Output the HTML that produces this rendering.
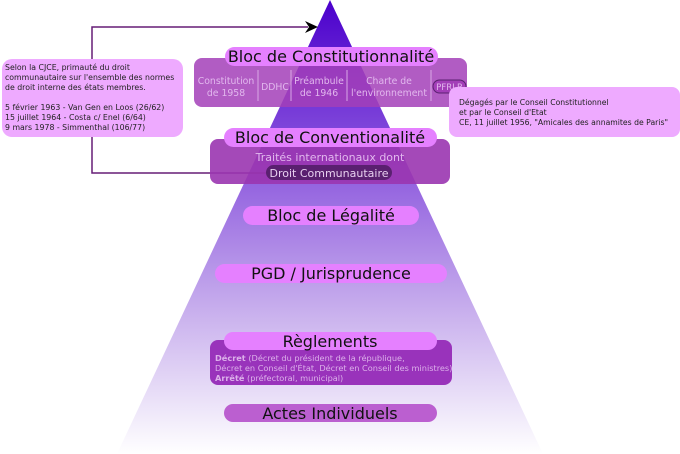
<!DOCTYPE html>
<html><head><meta charset="utf-8"><style>
html,body{margin:0;padding:0;background:#fff;}
svg{display:block;font-family:"DejaVu Sans","Liberation Sans",sans-serif;}
</style></head><body>
<svg width="680" height="454" viewBox="0 0 680 454" xmlns="http://www.w3.org/2000/svg">
<defs>
<linearGradient id="g" x1="0" y1="0" x2="0" y2="1">
<stop offset="0" stop-color="#4b00cc"/>
<stop offset="0.35" stop-color="#8a55dd"/>
<stop offset="0.7" stop-color="#cbb3ee"/>
<stop offset="1" stop-color="#ffffff"/>
</linearGradient>
</defs>
<polygon points="330,0 543,454 117,454" fill="url(#g)"/>
<polyline points="92,108 92,27 308,27" fill="none" stroke="#661d77" stroke-width="1.5"/>
<polygon points="318,27 305,21 309,27 305,33" fill="#000"/>
<polyline points="92,137 92,173 270,173" fill="none" stroke="#661d77" stroke-width="1.5"/>
<rect x="2" y="59" width="181" height="78" rx="10" fill="#eeaaff"/>
<g font-size="7.8" fill="#222">
<text x="5" y="70">Selon la CJCE, primauté du droit</text>
<text x="5" y="80">communautaire sur l'ensemble des normes</text>
<text x="5" y="90">de droit interne des états membres.</text>
<text x="5" y="110">5 février 1963 - Van Gen en Loos (26/62)</text>
<text x="5" y="120">15 juillet 1964 - Costa c/ Enel (6/64)</text>
<text x="5" y="130">9 mars 1978 - Simmenthal (106/77)</text>
</g>
<rect x="194" y="58" width="273" height="49" rx="8" fill="#a33fb8" fill-opacity="0.85"/>
<g stroke="#d9a8e6" stroke-width="1"><line x1="258" y1="70" x2="258" y2="101"/><line x1="291" y1="70" x2="291" y2="101"/><line x1="347" y1="70" x2="347" y2="101"/><line x1="431" y1="70" x2="431" y2="101"/></g>
<g font-size="9.3" fill="#e2b8ee" text-anchor="middle">
<text x="226" y="84">Constitution</text><text x="226" y="96">de 1958</text>
<text x="275" y="90">DDHC</text>
<text x="319" y="84">Préambule</text><text x="319" y="96">de 1946</text>
<text x="389" y="84">Charte de</text><text x="389" y="96">l'environnement</text>
</g>
<rect x="433" y="80" width="33" height="13" rx="6.5" fill="#a33fb8" stroke="#5a2070" stroke-width="1"/>
<text x="449.5" y="90" font-size="8.6" fill="#e2b8ee" text-anchor="middle">PFRLR</text>
<rect x="449" y="87" width="231" height="50" rx="8" fill="#eeaaff"/>
<g font-size="7.7" fill="#222">
<text x="459" y="105">Dégagés par le Conseil Constitutionnel</text>
<text x="459" y="115">et par le Conseil d'Etat</text>
<text x="459" y="125">CE, 11 juillet 1956, "Amicales des annamites de Paris"</text>
</g>
<rect x="225" y="47" width="213" height="19" rx="9.5" fill="#e580ff"/>
<text x="331" y="62" font-size="16" fill="#111" text-anchor="middle">Bloc de Constitutionnalité</text>
<rect x="210" y="139" width="240" height="45" rx="8" fill="#9a35b0" fill-opacity="0.9"/>
<text x="330" y="161" font-size="11" fill="#e2b8ee" text-anchor="middle">Traités internationaux dont</text>
<rect x="266" y="165" width="126" height="15" rx="7.5" fill="#5a2070"/>
<text x="329" y="177" font-size="11" fill="#e8d0f0" text-anchor="middle">Droit Communautaire</text>
<rect x="224" y="128" width="213" height="19" rx="9.5" fill="#e580ff"/>
<text x="330" y="143" font-size="16" fill="#111" text-anchor="middle">Bloc de Conventionalité</text>
<rect x="243" y="206" width="176" height="19" rx="9.5" fill="#e580ff"/>
<text x="331" y="221" font-size="16" fill="#111" text-anchor="middle">Bloc de Légalité</text>
<rect x="215" y="264" width="232" height="19" rx="9.5" fill="#e580ff"/>
<text x="331" y="279" font-size="16" fill="#111" text-anchor="middle">PGD / Jurisprudence</text>
<rect x="210" y="340" width="242" height="45" rx="8" fill="#9933bb"/>
<g font-size="8.2" fill="#dcb0ea">
<text x="215" y="361"><tspan font-weight="bold">Décret</tspan> (Décret du président de la république,</text>
<text x="215" y="371">Décret en Conseil d'État, Décret en Conseil des ministres)</text>
<text x="215" y="381"><tspan font-weight="bold">Arrêté</tspan> (préfectoral, municipal)</text>
</g>
<rect x="224" y="332" width="213" height="18" rx="9" fill="#e580ff"/>
<text x="330" y="347" font-size="16" fill="#111" text-anchor="middle">Règlements</text>
<rect x="224" y="404" width="213" height="18" rx="9" fill="#bb5fd0"/>
<text x="330" y="419" font-size="16" fill="#111" text-anchor="middle">Actes Individuels</text>
</svg>
</body></html>
